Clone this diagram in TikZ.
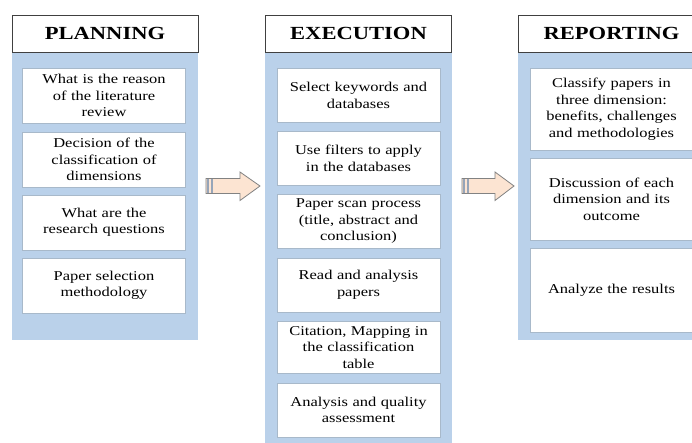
\documentclass[tikz,border=0pt]{standalone}
\usepackage{fontspec}
\setmainfont[FakeStretch=1.22]{Liberation Serif}
\definecolor{panelblue}{RGB}{186,209,234}
\definecolor{peach}{RGB}{252,228,210}
\definecolor{arrowgray}{RGB}{130,130,130}
\definecolor{stripe}{RGB}{150,165,185}
\begin{document}
\begin{tikzpicture}[x=1pt,y=-1pt,
  panel/.style={fill=panelblue,draw=none},
  titlebox/.style={draw=black!75,line width=0.9pt,fill=white,minimum width=186pt,minimum height=37pt,inner sep=0pt,font=\fontsize{18.5}{20}\selectfont\bfseries},
  itembox/.style={fill=white,draw=panelblue!70!gray,line width=0.4pt,minimum width=163pt,inner sep=0pt,align=center,text width=158pt,font=\fontsize{13.5}{16.5}\selectfont},
  flowarrow/.style={fill=peach,draw=arrowgray,line width=0.8pt,line join=miter}
]
\clip (0,0) rectangle (692,443);
\fill[white] (0,0) rectangle (692,443);
% panels
\path[panel] (12,52) rectangle (198,340);
\path[panel] (265,52) rectangle (452,450);
\path[panel] (518,52) rectangle (705,340);
% titles
\node[titlebox] (tp) at (105,33.5) {PLANNING};
\node[titlebox] (te) at (358.5,33.5) {EXECUTION};
\node[titlebox] (tr) at (611.5,33.5) {REPORTING};
% planning
\node[itembox,minimum height=55pt] (p1) at (104,95.5) {What is the reason\\of the literature\\review};
\node[itembox,minimum height=55pt] (p2) at (104,159.5) {Decision of the\\classification of\\dimensions};
\node[itembox,minimum height=55pt] (p3) at (104,222.5) {What are the\\research questions};
\node[itembox,minimum height=55pt] (p4) at (104,285.5) {Paper selection\\methodology};
% execution
\node[itembox,minimum height=54pt] (e1) at (358.5,95.5) {Select keywords and\\databases};
\node[itembox,minimum height=54pt] (e2) at (358.5,158.5) {Use filters to apply\\in the databases};
\node[itembox,minimum height=54pt] (e3) at (358.5,221.5) {Paper scan process\\(title, abstract and\\conclusion)};
\node[itembox,minimum height=54pt] (e4) at (358.5,285) {Read and analysis\\papers};
\node[itembox,minimum height=52pt] (e5) at (358.5,347.5) {Citation, Mapping in\\the classification\\table};
\node[itembox,minimum height=54pt] (e6) at (358.5,410) {Analysis and quality\\assessment};
% reporting
\node[itembox,minimum height=82pt] (r1) at (611.5,109) {Classify papers in\\three dimension:\\benefits, challenges\\and methodologies};
\node[itembox,minimum height=82pt] (r2) at (611.5,199) {Discussion of each\\dimension and its\\outcome};
\node[itembox,minimum height=84pt] (r3) at (611.5,290) {Analyze the results};
% arrows
\draw[flowarrow] (206,178.5) -- (240,178.5) -- (240,172) -- (260,186) -- (240,200.5) -- (240,193.5) -- (206,193.5) -- cycle;
\fill[stripe] (206.5,179) rectangle (209,193);
\fill[stripe] (210.5,179) rectangle (212.5,193);
\draw[flowarrow] (462,178.5) -- (495,178.5) -- (495,172) -- (514,186) -- (495,200.5) -- (495,193.5) -- (462,193.5) -- cycle;
\fill[stripe] (462.5,179) rectangle (465,193);
\fill[stripe] (466.5,179) rectangle (468.5,193);
\end{tikzpicture}
\end{document}
